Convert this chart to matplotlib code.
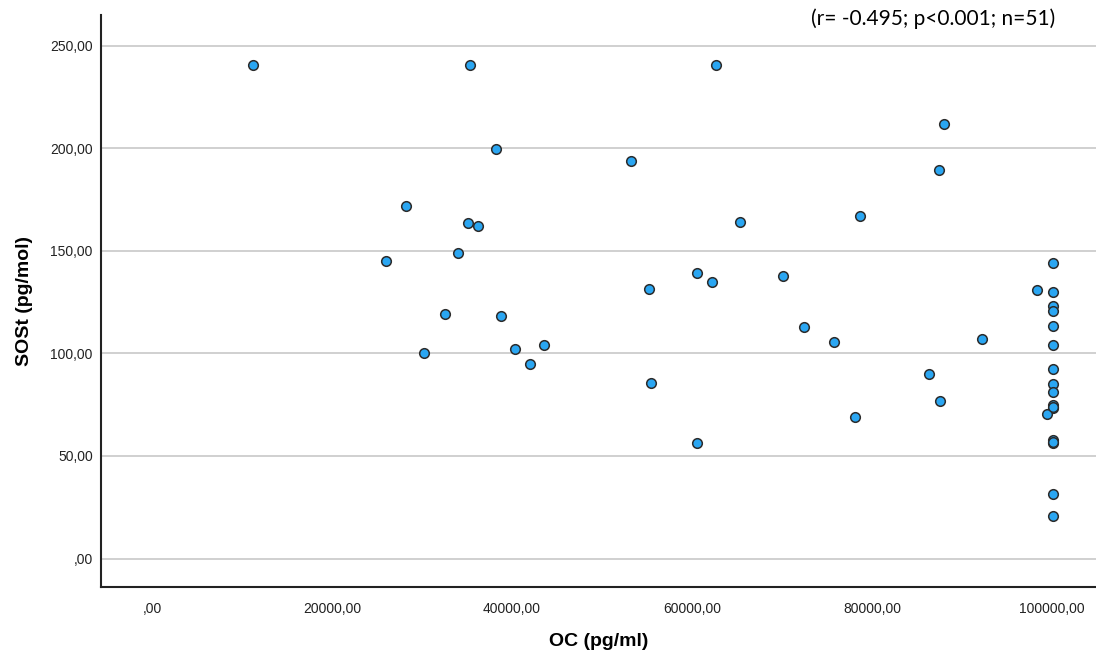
import matplotlib.pyplot as plt
from matplotlib.ticker import FuncFormatter

# OC (pg/ml) vs SOSt (pg/mol)
oc = [11200, 35300, 62700, 88000, 38200, 53200, 87400, 28200, 78700, 65300,
      35100, 36200, 34000, 26000, 100100, 60600, 70100, 62200, 55200, 98300,
      100100, 100100, 100100, 32600, 38800, 100100, 72400, 92200, 75800, 43600,
      100100, 40300, 30200, 42000, 100100, 86300, 55400, 100100, 100100, 100100,
      100100, 99400, 87600, 78100, 100100, 100100, 60600, 100100, 100100, 100100,
      100100]
sost = [240.5, 240.5, 240.5, 211.7, 199.6, 193.7, 189.3, 171.8, 166.9, 164.0,
        163.5, 162.0, 148.9, 145.0, 144.0, 139.0, 137.7, 134.7, 131.3, 130.8,
        130.0, 123.0, 120.6, 119.2, 118.2, 113.3, 112.8, 107.0, 105.5, 104.0,
        104.0, 102.1, 100.1, 94.8, 92.3, 89.9, 85.5, 85.0, 81.1, 74.8,
        73.3, 70.4, 76.8, 69.0, 57.7, 56.3, 56.3, 31.4, 20.7, 57.0,
        74.0]

xticks = [0, 20000, 40000, 60000, 80000, 100000]
yticks = [0, 50, 100, 150, 200, 250]


def spss_fmt(v, pos):
    s = f"{v:.2f}".replace(".", ",")
    if s.startswith("0,"):
        s = s[1:]
    return s


plt.rcParams['font.family'] = ['Liberation Sans', 'DejaVu Sans']

fig = plt.figure(figsize=(10.96, 6.57), dpi=100)
ax = fig.add_axes([0.0922, 0.1065, 0.9078, 0.8705])

ax.scatter(oc, sost, s=48, color='#2aa6f2', edgecolors='#2b2b2b',
           linewidths=1.1, zorder=3)

ax.set_xlim(-5667, 104890)
ax.set_ylim(-13.9, 264.9)
ax.set_xticks(xticks)
ax.set_yticks(yticks)
ax.xaxis.set_major_formatter(FuncFormatter(spss_fmt))
ax.yaxis.set_major_formatter(FuncFormatter(spss_fmt))
ax.tick_params(axis='both', length=0, labelsize=10, colors='#222222')
ax.tick_params(axis='x', pad=11)
ax.tick_params(axis='y', pad=6)

ax.grid(axis='y', color='#c8c8c8', linewidth=1.2)
ax.set_axisbelow(True)
for side in ['top', 'right']:
    ax.spines[side].set_visible(False)
for side in ['left', 'bottom']:
    ax.spines[side].set_color('#222222')
    ax.spines[side].set_linewidth(1.5)

ax.set_xlabel('OC (pg/ml)', fontsize=14, fontweight='bold', labelpad=12)
ax.set_ylabel('SOSt (pg/mol)', fontsize=14, fontweight='bold', labelpad=12)

fig.text(0.851, 0.972, '(r= -0.495; p<0.001; n=51)', family=['Lato', 'DejaVu Sans'],
         fontsize=15, ha='center', va='center')

fig.savefig('out.png', dpi=100)
